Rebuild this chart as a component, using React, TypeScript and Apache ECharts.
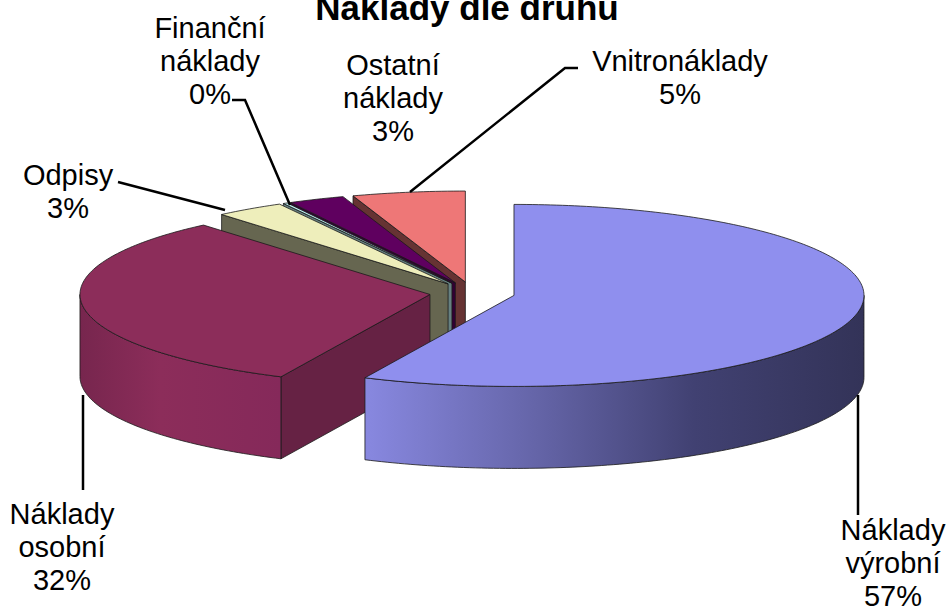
import React, { useEffect, useRef } from "react";
import * as echarts from "echarts";

const categories = ["Náklady\nvýrobní", "Náklady\nosobní", "Odpisy", "Finanční\nnáklady", "Ostatní\nnáklady", "Vnitronáklady"];
const values = [57, 31.8, 3.2, 0.2, 2.6, 5.2];
const topColors = ["#8F8FEE", "#8C2D5A", "#EEEEBB", "#BBEEEE", "#5F005F", "#EE7777"];
const radialColors = ["#4C4C80", "#662244", "#666650", "#668080", "#330033", "#663333"];
const wallStops = [
  [[0, "#8888E0"], [0.33, "#6666AA"], [0.66, "#414172"], [1, "#333358"]],
  [[0, "#77264E"], [0.4, "#8C2D5A"], [1, "#85295A"]],
  [[0, "#666650"], [1, "#666650"]],
  [[0, "#668080"], [1, "#668080"]],
  [[0, "#330033"], [1, "#330033"]],
  [[0, "#663333"], [1, "#663333"]],
];

const CX = 472.3;
const CY = 293;
const RX = 350;
const RY = 91;
const DEPTH = 82;
const EXPLODE = 0.122;

const labelX = [893, 62, 68, 210, 393, 680];
const labelY = [563, 547, 191, 61, 98, 77];
const leaders = [
  [[858, 395], [858, 515]],
  [[83, 395], [83, 490]],
  [[118, 182], [225, 210]],
  [[232, 100], [245, 100], [290, 205]],
  [[578, 68], [565, 68], [410, 192]],
];

const total = values.reduce((a, b) => a + b, 0);
let acc = 0;
const sliceData = values.map((v, i) => {
  const start = (acc / total) * 360;
  acc += v;
  return [start, (acc / total) * 360, i];
});

const rad = (d: number) => (d * Math.PI) / 180;

function renderSlice(_params: any, api: any) {
  const t1 = api.value(0) as number;
  const t2 = api.value(1) as number;
  const idx = api.value(2) as number;
  const mid = (t1 + t2) / 2;
  const cx = CX + EXPLODE * RX * Math.sin(rad(mid));
  const cy = CY - EXPLODE * RY * Math.cos(rad(mid));
  const pt = (t: number, dz = 0) => [cx + RX * Math.sin(rad(t)), cy - RY * Math.cos(rad(t)) + dz];
  const arc = (a: number, b: number, dz = 0) => {
    const n = Math.max(2, Math.ceil((b - a) / 1));
    const out: number[][] = [];
    for (let k = 0; k <= n; k++) out.push(pt(a + ((b - a) * k) / n, dz));
    return out;
  };
  const stroke = { stroke: "#1a1a1a", lineWidth: 0.8, lineJoin: "round" };
  const children: any[] = [];
  const radial = (t: number) => {
    const p = pt(t);
    children.push({
      type: "polygon",
      shape: { points: [[cx, cy], p, [p[0], p[1] + DEPTH], [cx, cy + DEPTH]] },
      style: { fill: radialColors[idx], ...stroke },
    });
  };
  if (Math.sin(rad(t1)) < 0) radial(t1);
  if (Math.sin(rad(t2)) > 0) radial(t2);
  const a = Math.max(t1, 90);
  const b = Math.min(t2, 270);
  if (b > a) {
    children.push({
      type: "polygon",
      shape: { points: [...arc(a, b), ...arc(a, b, DEPTH).reverse()] },
      style: {
        fill: {
          type: "linear",
          x: 0,
          y: 0,
          x2: 1,
          y2: 0,
          colorStops: wallStops[idx].map(([offset, color]) => ({ offset, color })),
        },
        ...stroke,
      },
    });
  }
  children.push({
    type: "polygon",
    shape: { points: [[cx, cy], ...arc(t1, t2)] },
    style: { fill: topColors[idx], ...stroke },
  });
  return { type: "group", children };
}

export default function App() {
  const ref = useRef<HTMLDivElement>(null);
  useEffect(() => {
    document.body.style.margin = "0";
    const chart = echarts.init(ref.current!, null, { renderer: "svg" });
    const labelFont = { fontFamily: "Liberation Sans", fontSize: 29, lineHeight: 33, fill: "#000" };
    chart.setOption({
      animation: false,
      backgroundColor: "#fff",
      series: [
        {
          type: "custom",
          coordinateSystem: "none",
          renderItem: renderSlice,
          silent: true,
          data: [...sliceData].reverse(),
        },
      ],
      graphic: {
        elements: [
          ...leaders.map((pts) => ({
            type: "polyline",
            z: 10,
            silent: true,
            shape: { points: pts },
            style: { stroke: "#000", lineWidth: 2.5, fill: "none" },
          })),
          {
            type: "text",
            z: 11,
            x: 467,
            y: 7,
            style: {
              text: "Náklady dle druhu",
              fontFamily: "Liberation Sans",
              fontWeight: "bold",
              fontSize: 35,
              fill: "#000",
              align: "center",
              verticalAlign: "middle",
            },
          },
          ...categories.map((c, i) => ({
            type: "text",
            z: 11,
            x: labelX[i],
            y: labelY[i],
            style: {
              text: `${c}\n${Math.round(values[i])}%`,
              align: "center",
              verticalAlign: "middle",
              ...labelFont,
            },
          })),
        ],
      },
    });
    return () => chart.dispose();
  }, []);
  return <div ref={ref} style={{ width: 949, height: 611 }} />;
}
